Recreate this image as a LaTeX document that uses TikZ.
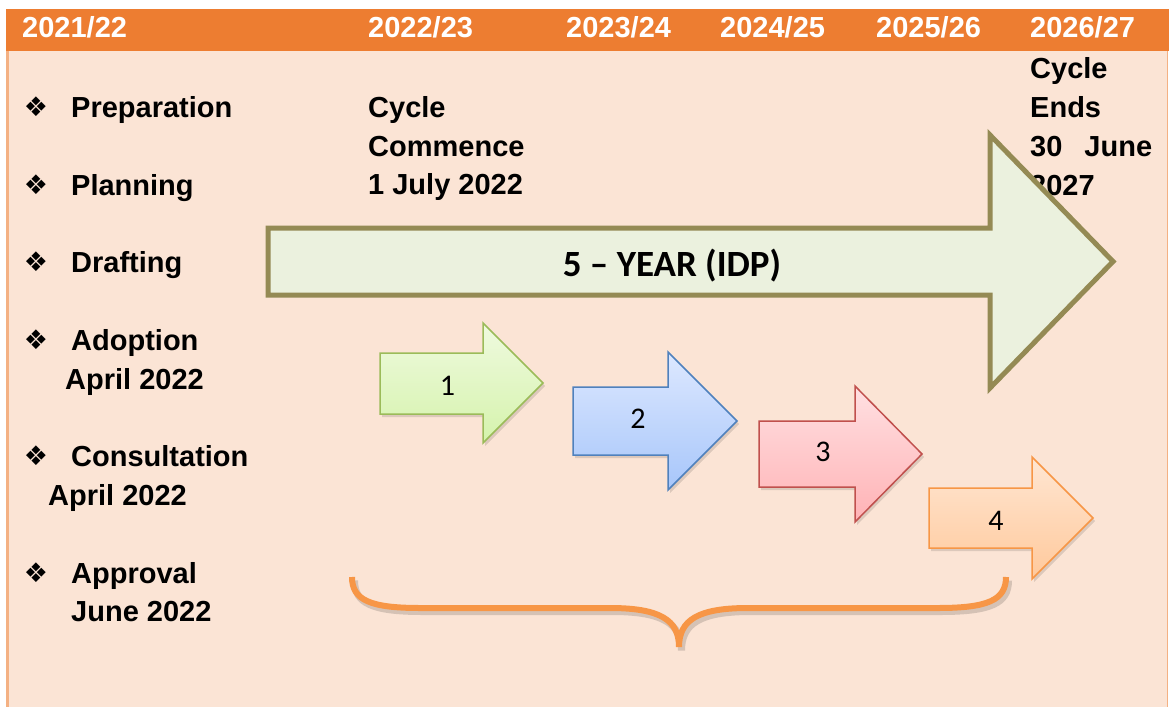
\documentclass[tikz,border=0pt]{standalone}
\usepackage{fontspec}
\setmainfont{Liberation Sans}
\newfontfamily\calfont{Carlito}
\newfontfamily\symfont{DejaVu Sans}
\definecolor{bandc}{HTML}{ED7D31}
\definecolor{bodyc}{HTML}{FBE4D5}
\definecolor{edgec}{HTML}{F4B183}
\definecolor{bigfill}{HTML}{EBF1DE}
\definecolor{bigline}{HTML}{948A54}
\definecolor{gtop}{HTML}{EFFADF}
\definecolor{gbot}{HTML}{D5F3AC}
\definecolor{gline}{HTML}{9BBB59}
\definecolor{btop}{HTML}{DDE8FF}
\definecolor{bbot}{HTML}{A7C6FA}
\definecolor{bline}{HTML}{4F81BD}
\definecolor{rtop}{HTML}{FFE0E2}
\definecolor{rbot}{HTML}{FFB2B5}
\definecolor{rline}{HTML}{C0504D}
\definecolor{otop}{HTML}{FFE6D2}
\definecolor{obot}{HTML}{FFC99C}
\definecolor{oline}{HTML}{F79646}
\begin{document}
\begin{tikzpicture}[x=1pt,y=-1pt,
  hdr/.style={anchor=base west, inner sep=0, text=white, font=\fontsize{29}{34}\selectfont\bfseries},
  lbl/.style={anchor=base west, inner sep=0, font=\fontsize{29}{34}\selectfont\bfseries},
  bul/.style={inner sep=0, font=\symfont\fontsize{27}{28}\selectfont},
  num/.style={inner sep=0, font=\calfont\fontsize{30}{32}\selectfont},
  shadowpath/.style={fill=black, opacity=0.12, draw=none},
  smallarrow/.style={line width=1.5pt, line join=miter}]
\useasboundingbox (0,0) rectangle (1169,707);
\fill[white] (0,0) rectangle (1169,707);
\fill[bodyc] (6,51) rectangle (1168,707);
\draw[edgec, line width=2.5pt] (7.5,51) -- (7.5,707);
\draw[edgec, line width=1pt] (1167.5,51) -- (1167.5,707);
\fill[bandc] (6,9) rectangle (1169,51);

% header
\node[hdr] (h1) at (22,37) {2021/22};
\node[hdr] (h2) at (368,37) {2022/23};
\node[hdr] (h3) at (566,37) {2023/24};
\node[hdr] (h4) at (720,37) {2024/25};
\node[hdr] (h5) at (876,37) {2025/26};
\node[hdr] (h6) at (1030,37) {2026/27};

% left column
\node[bul] (b1) at (36,107) {❖};
\node[lbl] (t1) at (71,117) {Preparation};
\node[bul] (b2) at (36,185) {❖};
\node[lbl] (t2) at (71,195) {Planning};
\node[bul] (b3) at (36,262) {❖};
\node[lbl] (t3) at (71,272) {Drafting};
\node[bul] (b4) at (36,340) {❖};
\node[lbl] (t4) at (71,350) {Adoption};
\node[lbl] (t4b) at (65,389) {April 2022};
\node[bul] (b5) at (36,456) {❖};
\node[lbl] (t5) at (71,466) {Consultation};
\node[lbl] (t5b) at (48,505) {April 2022};
\node[bul] (b6) at (36,573) {❖};
\node[lbl] (t6) at (71,583) {Approval};
\node[lbl] (t6b) at (71,621) {June 2022};

% cycle texts
\node[lbl] (c1) at (368,117) {Cycle};
\node[lbl] (c2) at (368,156) {Commence};
\node[lbl] (c3) at (368,194) {1 July 2022};
\node[lbl] (e1) at (1030,78) {Cycle};
\node[lbl] (e2) at (1030,117) {Ends};
\node[lbl] (e3) at (1030,156) {30\hspace{22pt}June};
\node[lbl] (e4) at (1030,195) {2027};

% big arrow
\draw[bigline, fill=bigfill, line width=5pt, line join=miter]
  (268,228) -- (990,228) -- (990,135) -- (1113,261.5) -- (990,388) -- (990,295) -- (268,295) -- cycle;
\node[inner sep=0, font=\calfont\fontsize{37}{40}\selectfont\bfseries] (idp) at (672,266) {5 – YEAR (IDP)};

% small arrow shadows
\fill[shadowpath] (382,356) -- (485,356) -- (485,326) -- (545,386) -- (485,446) -- (485,417) -- (382,417) -- cycle;
\fill[shadowpath] (575,390) -- (670,390) -- (670,355) -- (739,424) -- (670,493) -- (670,458) -- (575,458) -- cycle;
\fill[shadowpath] (761,424) -- (857,424) -- (857,389) -- (924,457) -- (857,525) -- (857,490) -- (761,490) -- cycle;
\fill[shadowpath] (931,491) -- (1034,491) -- (1034,460) -- (1095,521) -- (1034,582) -- (1034,551) -- (931,551) -- cycle;

% small arrows
\draw[smallarrow, gline, top color=gtop, bottom color=gbot]
  (380,353) -- (483,353) -- (483,323) -- (543,383) -- (483,443) -- (483,414) -- (380,414) -- cycle;
\draw[smallarrow, bline, top color=btop, bottom color=bbot]
  (573,387) -- (668,387) -- (668,352) -- (737,421) -- (668,490) -- (668,455) -- (573,455) -- cycle;
\draw[smallarrow, rline, top color=rtop, bottom color=rbot]
  (759,421) -- (855,421) -- (855,386) -- (922,454) -- (855,522) -- (855,487) -- (759,487) -- cycle;
\draw[smallarrow, oline, top color=otop, bottom color=obot]
  (929,488) -- (1032,488) -- (1032,457) -- (1093,518) -- (1032,579) -- (1032,548) -- (929,548) -- cycle;
\node[num] (n1) at (447.5,386) {1};
\node[num] (n2) at (638,419) {2};
\node[num] (n3) at (823,452) {3};
\node[num] (n4) at (996,521) {4};

% brace
\begin{scope}[shift={(2.5,3.5)}]
\draw[black, opacity=0.15, line width=7pt]
  (352,577) .. controls (352,600) and (370,608) .. (420,608) -- (610,608)
  .. controls (660,608) and (679,620) .. (679,647)
  .. controls (679,620) and (698,608) .. (748,608) -- (938,608)
  .. controls (988,608) and (1006,600) .. (1006,577);
\end{scope}
\draw[oline, line width=6pt]
  (352,577) .. controls (352,600) and (370,608) .. (420,608) -- (610,608)
  .. controls (660,608) and (679,620) .. (679,647)
  .. controls (679,620) and (698,608) .. (748,608) -- (938,608)
  .. controls (988,608) and (1006,600) .. (1006,577);
\end{tikzpicture}
\end{document}
